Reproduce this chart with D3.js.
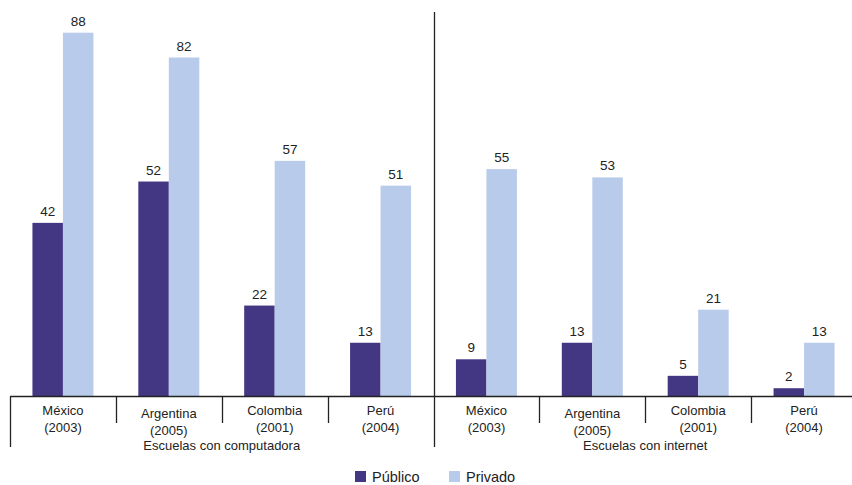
<!DOCTYPE html>
<html>
<head>
<meta charset="utf-8">
<script src="https://cdn.jsdelivr.net/npm/d3@7"></script>
<style>
  html, body { margin: 0; padding: 0; background: #fff; }
  svg { display: block; font-family: "Liberation Sans", Arial, sans-serif; }
</style>
</head>
<body>
<svg id="chart" width="852" height="485"></svg>
<script>
// Share of schools with computers / internet access, by sector
const groups = ["Escuelas con computadora", "Escuelas con internet"];
const countries = ["México", "Argentina", "Colombia", "Perú"];
const years = ["(2003)", "(2005)", "(2001)", "(2004)"];
const series = ["Público", "Privado"];
const publico = [42, 52, 22, 13, 9, 13, 5, 2];
const privado = [88, 82, 57, 51, 55, 53, 21, 13];

const colors = { "Público": "#433784", "Privado": "#b9cbea" };

const rows = [];
groups.forEach((g, gi) => {
  countries.forEach((c, ci) => {
    const i = gi * countries.length + ci;
    rows.push({ key: g + "|" + c, group: g, country: c, year: years[ci],
                values: { "Público": publico[i], "Privado": privado[i] } });
  });
});

const svg = d3.select("#chart");
const baseY = 396.5;

const x = d3.scaleBand().domain(rows.map(d => d.key)).range([10, 857]).padding(0);
const y = d3.scaleLinear().domain([0, 88]).range([baseY, 32.7]);
const pairW = 61;
const xs = d3.scaleBand().domain(series).range([0, pairW]);

// bars
const cat = svg.append("g").selectAll("g").data(rows).join("g")
  .attr("transform", d => `translate(${x(d.key) + x.bandwidth() / 2 - pairW / 2},0)`);

cat.selectAll("rect").data(d => series.map(s => ({ s, v: d.values[s] }))).join("rect")
  .attr("x", d => xs(d.s))
  .attr("width", xs.bandwidth())
  .attr("y", d => y(d.v))
  .attr("height", d => baseY - y(d.v))
  .attr("fill", d => colors[d.s]);

cat.selectAll("text.val").data(d => series.map(s => ({ s, v: d.values[s] }))).join("text")
  .attr("class", "val")
  .attr("x", d => xs(d.s) + xs.bandwidth() / 2)
  .attr("y", d => y(d.v) - 7)
  .attr("text-anchor", "middle")
  .attr("font-size", 13.5)
  .attr("fill", "#222")
  .text(d => d.v);

// baseline
const axisG = svg.append("g").attr("stroke", "#222").attr("stroke-width", 1.3);
axisG.append("line").attr("x1", x.range()[0]).attr("x2", x.range()[1])
  .attr("y1", baseY).attr("y2", baseY);

// category separators (long ones at group starts)
rows.forEach((d, i) => {
  const gx = Math.round(x(d.key)) + 0.5;
  const groupStart = i % countries.length === 0;
  axisG.append("line")
    .attr("x1", gx).attr("x2", gx)
    .attr("y1", groupStart && i > 0 ? 12 : baseY)
    .attr("y2", groupStart ? 447 : 423);
});

// category labels (the "Argentina" pair sits a little lower)
const lab = svg.append("g").attr("font-size", 13).attr("fill", "#222").attr("text-anchor", "middle");
rows.forEach(d => {
  const cx = x(d.key) + x.bandwidth() / 2;
  const dy = d.country === "Argentina" ? 3 : 0;
  lab.append("text").attr("x", cx).attr("y", 415 + dy).text(d.country);
  lab.append("text").attr("x", cx).attr("y", 432 + dy).text(d.year);
});

// group labels
groups.forEach(g => {
  const keys = rows.filter(r => r.group === g).map(r => r.key);
  const gx0 = x(keys[0]);
  const gx1 = x(keys[keys.length - 1]) + x.bandwidth();
  lab.append("text").attr("x", (gx0 + gx1) / 2).attr("y", 450).text(g);
});

// legend
const legend = svg.append("g").attr("font-size", 14.5).attr("fill", "#222");
const legendX = [355, 449];
series.forEach((s, i) => {
  legend.append("rect").attr("x", legendX[i]).attr("y", 471)
    .attr("width", 11).attr("height", 11).attr("fill", colors[s]);
  legend.append("text").attr("x", legendX[i] + 17).attr("y", 482).text(s);
});
</script>
</body>
</html>
